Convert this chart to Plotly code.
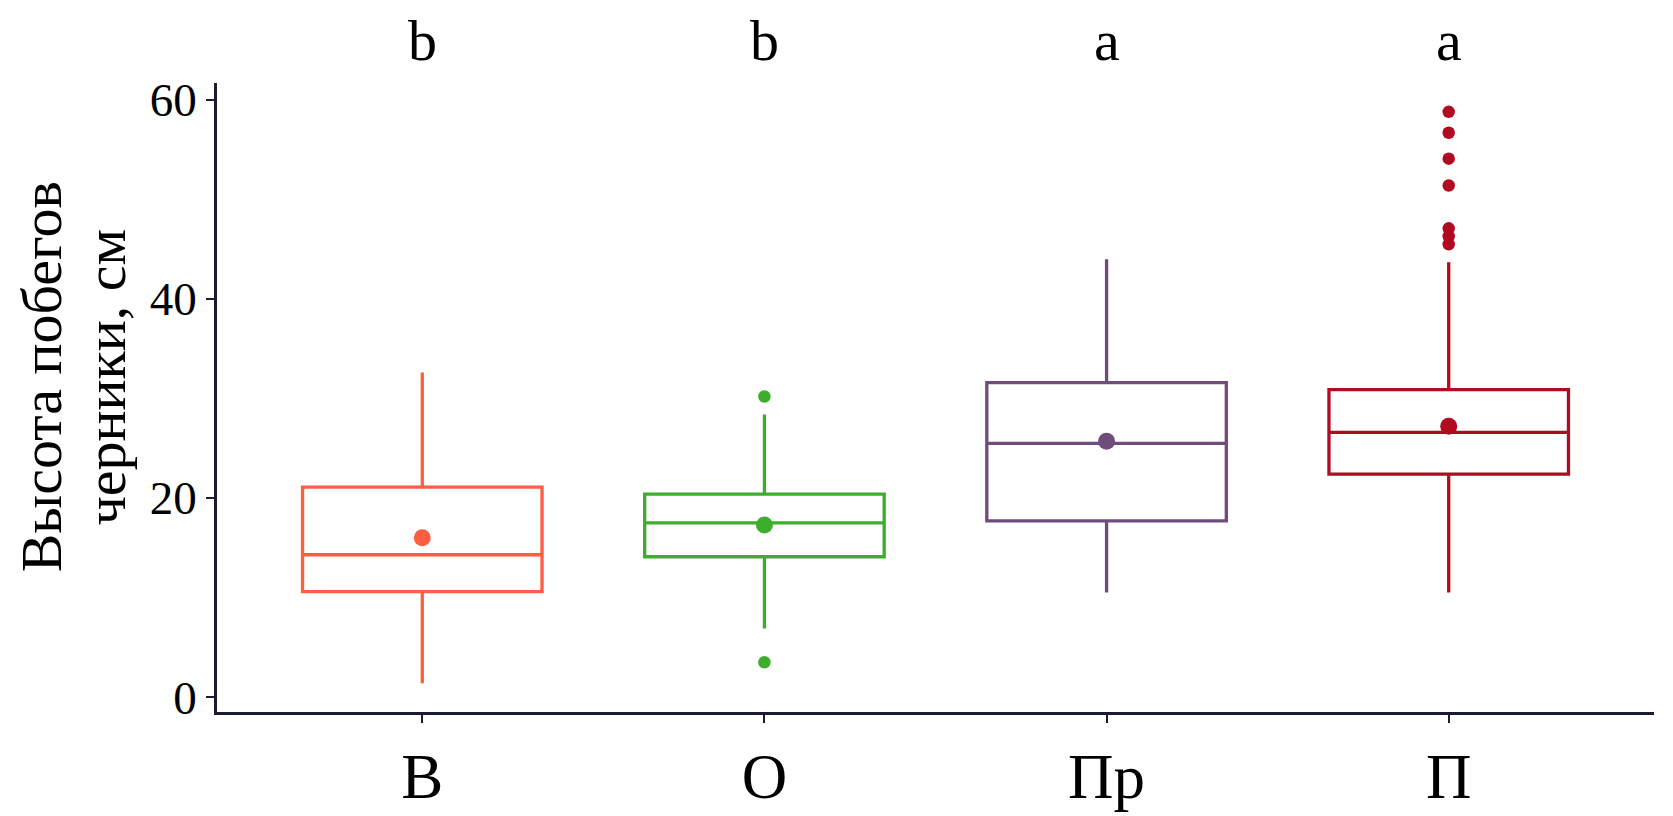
import plotly.graph_objects as go

# groups and colours
groups = ["В", "О", "Пр", "П"]
colors = ["#FF5F40", "#3DAE2B", "#6F4C7C", "#B00B20"]
letters = ["b", "b", "a", "a"]

# box statistics (cm)
lower = [1.4, 6.9, 10.5, 10.5]
q1 = [10.6, 14.1, 17.7, 22.4]
median = [14.3, 17.5, 25.5, 26.6]
q3 = [21.1, 20.4, 31.6, 30.9]
upper = [32.6, 28.4, 44.0, 43.7]
means = [16.0, 17.3, 25.7, 27.2]

# outliers
outliers = {
    "В": [],
    "О": [3.5, 30.2],
    "Пр": [],
    "П": [45.5, 46.3, 47.1, 51.4, 54.1, 56.7, 58.8],
}

font_name = "Liberation Serif"
axis_col = "#1B1B33"

fig = go.Figure()

for i, g in enumerate(groups):
    fig.add_trace(go.Box(
        x=[g], q1=[q1[i]], median=[median[i]], q3=[q3[i]],
        lowerfence=[lower[i]], upperfence=[upper[i]],
        boxpoints=False, width=0.7, whiskerwidth=0,
        line=dict(color=colors[i], width=3.3),
        fillcolor="rgba(255,255,255,0)",
        hoverinfo="y", showlegend=False,
    ))
    if outliers[g]:
        fig.add_trace(go.Scatter(
            x=[g] * len(outliers[g]), y=outliers[g], mode="markers",
            marker=dict(color=colors[i], size=12.5),
            showlegend=False, cliponaxis=False,
        ))
    # mean point
    fig.add_trace(go.Scatter(
        x=[g], y=[means[i]], mode="markers",
        marker=dict(color=colors[i], size=17),
        showlegend=False,
    ))

# significance letters above each box
for i, g in enumerate(groups):
    fig.add_annotation(
        x=g, y=1, xref="x", yref="paper", yanchor="bottom", yshift=8,
        text=letters[i], showarrow=False,
        font=dict(family=font_name, size=58, color="black"),
    )

# y axis title, two lines
fig.add_annotation(
    x=0, y=0.532, xref="paper", yref="paper", xshift=-176,
    text="Высота побегов", textangle=-90, showarrow=False,
    xanchor="center", yanchor="middle",
    font=dict(family=font_name, size=58, color="black"),
)
fig.add_annotation(
    x=0, y=0.532, xref="paper", yref="paper", xshift=-112,
    text="черники, см", textangle=-90, showarrow=False,
    xanchor="center", yanchor="middle",
    font=dict(family=font_name, size=58, color="black"),
)

fig.update_layout(
    width=1673, height=816,
    margin=dict(l=209, r=27, t=75, b=93),
    paper_bgcolor="white", plot_bgcolor="white",
    font=dict(family=font_name, color="black"),
    showlegend=False,
)
fig.update_xaxes(
    categoryorder="array", categoryarray=groups,
    range=[-0.6, 3.6], showgrid=False, zeroline=False,
    showline=True, linecolor=axis_col, linewidth=2.5,
    ticks="outside", ticklen=8, tickwidth=2, tickcolor=axis_col,
    tickfont=dict(family=font_name, size=63, color="black"),
)
fig.update_yaxes(
    range=[-1.5, 61.7], tickvals=[0, 20, 40, 60],
    showgrid=False, zeroline=False,
    showline=True, linecolor=axis_col, linewidth=2.5,
    ticks="outside", ticklen=8, tickwidth=2, tickcolor=axis_col,
    tickfont=dict(family=font_name, size=47, color="black"),
)

fig.write_html("out.html")
